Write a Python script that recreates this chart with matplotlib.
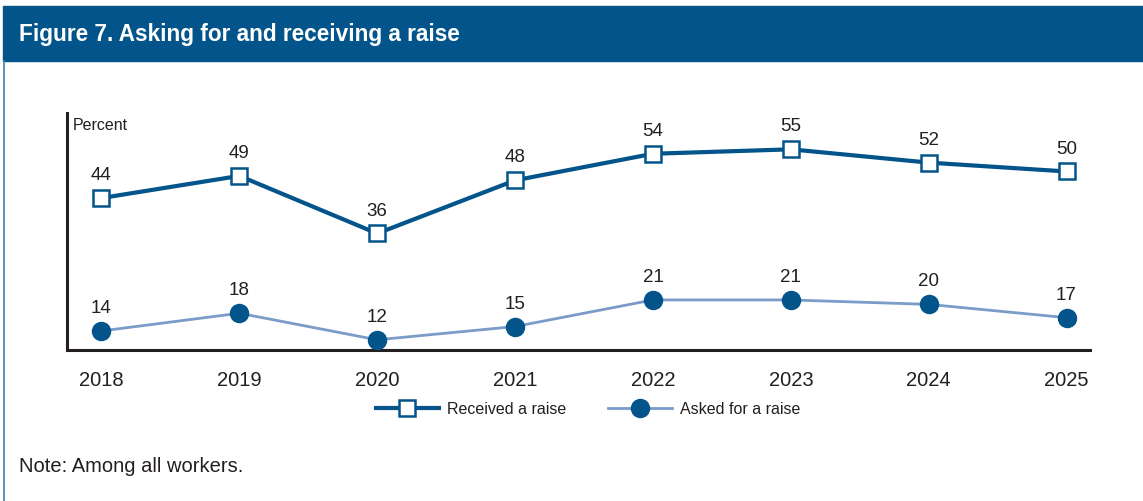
import matplotlib
matplotlib.use("Agg")
import matplotlib.pyplot as plt
from matplotlib.patches import Rectangle
from matplotlib.lines import Line2D

years = [2018, 2019, 2020, 2021, 2022, 2023, 2024, 2025]
received = [44, 49, 36, 48, 54, 55, 52, 50]
asked = [14, 18, 12, 15, 21, 21, 20, 17]
title = "Figure 7. Asking for and receiving a raise"
note = "Note: Among all workers."

DARK = "#02548B"
LIGHT = "#7B9BC8"
TEXT = "#231F20"

plt.rcParams["font.family"] = ["Liberation Sans", "DejaVu Sans"]

fig = plt.figure(figsize=(11.43, 5.01), dpi=100)
W, H = 1143, 501

def fx(px):
    return px / W

def fy(py):
    return 1 - py / H

# header band and left rule
fig.patches.append(Rectangle((fx(3), fy(61)), fx(1143) - fx(3), fy(6) - fy(61),
                             transform=fig.transFigure, color=DARK, zorder=0))
fig.lines.append(Line2D([fx(3.5), fx(3.5)], [fy(61), 0], transform=fig.transFigure,
                        color="#4A7FB0", lw=1.2))
fig.text(fx(19), fy(34), title, color="white", fontsize=16.3, fontweight="bold",
         va="center", ha="left")

ax = fig.add_axes([fx(67), fy(350), fx(1090) - fx(67), fy(113) - fy(350)])
ax.set_xlim(2017.75, 2025.17)
ax.set_ylim(9.7, 63.2)

ax.plot(years, received, color=DARK, lw=3, marker="s", markersize=12,
        markerfacecolor="white", markeredgecolor=DARK, markeredgewidth=1.8,
        label="Received a raise", zorder=3)
ax.plot(years, asked, color=LIGHT, lw=2, marker="o", markersize=13,
        markerfacecolor=DARK, markeredgecolor=DARK,
        label="Asked for a raise", zorder=3)

for x, v in zip(years, received):
    ax.annotate(str(v), (x, v), xytext=(0, 10), textcoords="offset points",
                ha="center", va="bottom", fontsize=13.5, color=TEXT)
for x, v in zip(years, asked):
    ax.annotate(str(v), (x, v), xytext=(0, 10), textcoords="offset points",
                ha="center", va="bottom", fontsize=13.5, color=TEXT)

for s in ["top", "right"]:
    ax.spines[s].set_visible(False)
for s in ["left", "bottom"]:
    ax.spines[s].set_linewidth(2.2)
    ax.spines[s].set_color(TEXT)
ax.set_yticks([])
ax.set_xticks(years)
ax.set_xticklabels([str(y) for y in years], fontsize=14.5, color=TEXT)
ax.tick_params(axis="x", length=0, pad=15)

ax.annotate("Percent", (0, 1), xycoords="axes fraction", xytext=(6, -5),
            textcoords="offset pixels", ha="left", va="top",
            fontsize=11.5, color=TEXT)

leg = fig.legend(loc="center", bbox_to_anchor=(fx(588), fy(409)), ncol=2,
                 frameon=False, fontsize=11.5, handlelength=4.0, columnspacing=2.6,
                 handletextpad=0.5)
for t in leg.get_texts():
    t.set_color(TEXT)

fig.text(fx(19), fy(467), note, fontsize=14.5, color=TEXT, va="center", ha="left")

fig.savefig("out.png", dpi=100)
